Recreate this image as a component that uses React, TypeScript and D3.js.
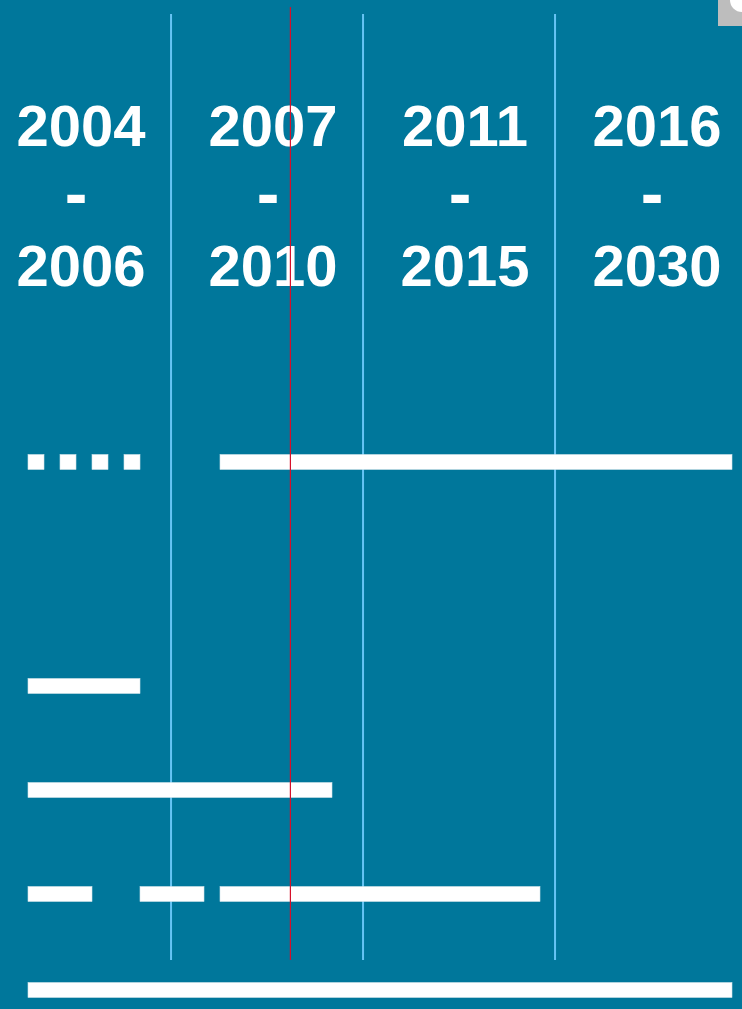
import React from "react";
import * as d3 from "d3";

// periods shown as column headers
const periods = [
  ["2004", "2006"],
  ["2007", "2010"],
  ["2011", "2015"],
  ["2016", "2030"],
];

// timeline is measured in units (0 = left edge of bars, 44 = right end)
const dividers = [8.94, 20.94, 32.94];
const today = 16.4;

// each row: list of [start, end] segments
const rowSegments: [number, number][][] = [
  [[0, 1], [2, 3], [4, 5], [6, 7], [12, 44]],
  [[0, 7]],
  [[0, 19]],
  [[0, 4], [7, 11], [12, 32]],
  [[0, 44]],
];
const rowY = [462, 686, 790, 894, 990];

const W = 742;
const H = 1009;

const App: React.FC = () => {
  const x = d3.scaleLinear().domain([0, 44]).range([28, 732]);
  const colCenter = d3.scaleLinear().domain([0, 3]).range([81, 657]);
  const barH = 15;

  return (
    <div style={{ position: "absolute", left: 0, top: 0, width: W, height: H }}>
      <svg width={W} height={H} style={{ display: "block" }}>
        <rect width={W} height={H} fill="#00779b" />

        {/* small grey corner */}
        <rect x={718} y={0} width={24} height={26} fill="#bdbdbd" />
        <path d="M730,0 A12,12 0 0 0 742,12 L742,0 Z" fill="#ffffff" />

        {dividers.map((d, i) => (
          <line
            key={`div-${i}`}
            x1={x(d)}
            x2={x(d)}
            y1={14}
            y2={960}
            stroke="#66c4f4"
            strokeWidth={2}
          />
        ))}

        {periods.map((p, i) => (
          <g
            key={`p-${i}`}
            fill="#ffffff"
            fontFamily="'Liberation Sans', Arial, sans-serif"
            fontWeight="bold"
            textAnchor="middle"
          >
            <text x={colCenter(i)} y={146} fontSize={58}>{p[0]}</text>
            <text x={colCenter(i) - 5} y={217} fontSize={68}>-</text>
            <text x={colCenter(i)} y={286} fontSize={58}>{p[1]}</text>
          </g>
        ))}

        {rowSegments.map((segs, r) =>
          segs.map(([a, b], j) => (
            <rect
              key={`s-${r}-${j}`}
              x={x(a)}
              y={rowY[r] - barH / 2}
              width={x(b) - x(a)}
              height={barH}
              fill="#ffffff"
              stroke="#cfe3ea"
              strokeWidth={0.6}
            />
          ))
        )}

        <line
          x1={x(today)}
          x2={x(today)}
          y1={7}
          y2={960}
          stroke="#d6102a"
          strokeWidth={1.2}
        />
      </svg>
    </div>
  );
};

export default App;
